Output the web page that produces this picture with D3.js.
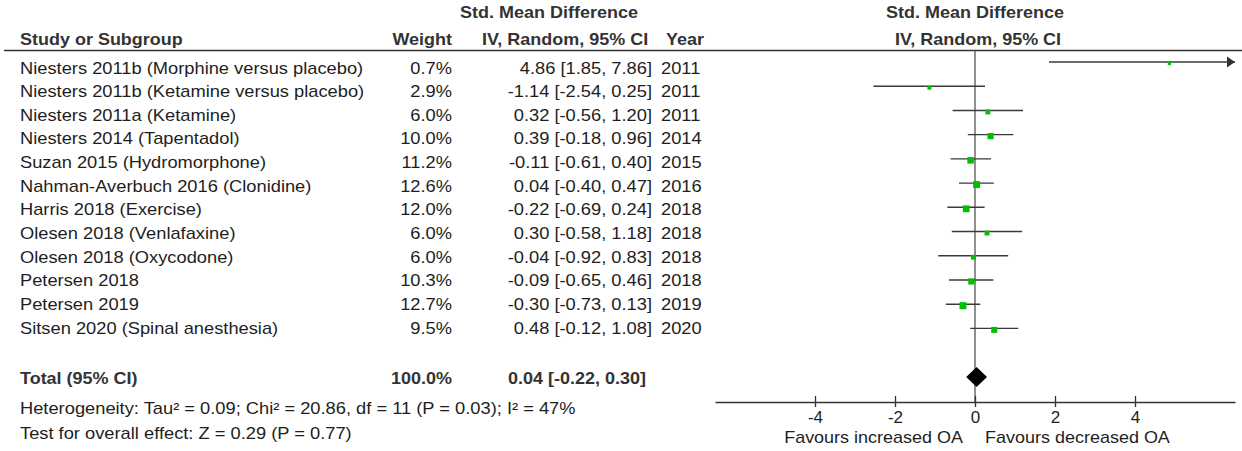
<!DOCTYPE html>
<html>
<head>
<meta charset="utf-8">
<script src="https://cdn.jsdelivr.net/npm/d3@7/dist/d3.min.js"></script>
<style>
  html, body { margin: 0; padding: 0; background: #fff; }
  svg { display: block; }
</style>
</head>
<body>
<svg id="chart" width="1242" height="451"></svg>
<script>
// ---------------- data ----------------
const studies = [
  "Niesters 2011b (Morphine versus placebo)",
  "Niesters 2011b (Ketamine versus placebo)",
  "Niesters 2011a (Ketamine)",
  "Niesters 2014 (Tapentadol)",
  "Suzan 2015 (Hydromorphone)",
  "Nahman-Averbuch 2016 (Clonidine)",
  "Harris 2018 (Exercise)",
  "Olesen 2018 (Venlafaxine)",
  "Olesen 2018 (Oxycodone)",
  "Petersen 2018",
  "Petersen 2019",
  "Sitsen 2020 (Spinal anesthesia)"
];
const weights = [0.7, 2.9, 6.0, 10.0, 11.2, 12.6, 12.0, 6.0, 6.0, 10.3, 12.7, 9.5];
const smd     = [4.86, -1.14, 0.32, 0.39, -0.11, 0.04, -0.22, 0.30, -0.04, -0.09, -0.30, 0.48];
const lower   = [1.85, -2.54, -0.56, -0.18, -0.61, -0.40, -0.69, -0.58, -0.92, -0.65, -0.73, -0.12];
const upper   = [7.86, 0.25, 1.20, 0.96, 0.40, 0.47, 0.24, 1.18, 0.83, 0.46, 0.13, 1.08];
const years   = [2011, 2011, 2011, 2014, 2015, 2016, 2018, 2018, 2018, 2018, 2019, 2020];
const total   = {est: 0.04, lo: -0.22, hi: 0.30, weight: "100.0%"};
const tickValues = [-4, -2, 0, 2, 4];
const axisDomain = [-6.5, 6.5];
const heterogeneityText = "Heterogeneity: Tau\u00B2 = 0.09; Chi\u00B2 = 20.86, df = 11 (P = 0.03); I\u00B2 = 47%";
const overallText = "Test for overall effect: Z = 0.29 (P = 0.77)";
const favourLeft = "Favours increased OA";
const favourRight = "Favours decreased OA";

// ---------------- layout ----------------
const svg = d3.select("#chart");
const FONT = "'Liberation Sans', Arial, Helvetica, sans-serif";
const SX = 1.13;       // horizontal stretch of the original typesetting
const SXB = 1.11;
const FS = 16.2;
const TXT = "#1e1e1e";
const HDR = "#333333";

const x = d3.scaleLinear().domain(axisDomain).range([715, 1235]);
const yLine = d3.scaleLinear().domain([0, studies.length - 1]).range([62, 328.4]);
const yText = d3.scaleLinear().domain([0, studies.length - 1]).range([73.5, 333.5]);
const size = d3.scaleLinear().domain([0, 12.7]).range([3, 7]);

function txt(x0, y0, s, opts = {}) {
  const bold = opts.weight === "bold";
  return svg.append("text")
    .attr("transform", `translate(${x0},${y0}) scale(${opts.sx || (bold ? SXB : SX)},1)`)
    .attr("text-anchor", opts.anchor || "start")
    .attr("font-family", FONT)
    .attr("font-size", opts.size || FS)
    .attr("font-weight", opts.weight || "normal")
    .attr("fill", opts.fill || TXT)
    .text(s);
}

// headers
txt(549, 18, "Std. Mean Difference", {anchor: "middle", weight: "bold", fill: HDR});
txt(20, 45, "Study or Subgroup", {weight: "bold", fill: HDR});
txt(452, 45, "Weight", {anchor: "end", weight: "bold", fill: HDR});
txt(482, 45, "IV, Random, 95% CI", {weight: "bold", fill: HDR});
txt(666, 45, "Year", {weight: "bold", fill: HDR});
txt(975, 18, "Std. Mean Difference", {anchor: "middle", weight: "bold", fill: HDR});
txt(978, 45, "IV, Random, 95% CI", {anchor: "middle", weight: "bold", fill: HDR});

svg.append("line").attr("x1", 4).attr("x2", 1242).attr("y1", 50.5).attr("y2", 50.5)
  .attr("stroke", "#333").attr("stroke-width", 1.3);

// rows text
studies.forEach((s, i) => {
  const ty = yText(i);
  txt(20, ty, s);
  txt(452, ty, weights[i].toFixed(1) + "%", {anchor: "end"});
  txt(652, ty, `${smd[i].toFixed(2)} [${lower[i].toFixed(2)}, ${upper[i].toFixed(2)}]`, {anchor: "end"});
  txt(661, ty, String(years[i]));
});

// total row text
txt(20, 384, "Total (95% CI)", {weight: "bold", fill: HDR});
txt(452, 384, total.weight, {anchor: "end", weight: "bold", fill: HDR});
txt(646, 384, `${total.est.toFixed(2)} [${total.lo.toFixed(2)}, ${total.hi.toFixed(2)}]`, {anchor: "end", weight: "bold", fill: HDR});
txt(20, 414, heterogeneityText);
txt(20, 439, overallText);

// ---------------- plot ----------------
const axisY = 402;
// zero line
svg.append("line").attr("x1", x(0)).attr("x2", x(0)).attr("y1", 50.5).attr("y2", axisY)
  .attr("stroke", "#555").attr("stroke-width", 1.3);

const rows = svg.append("g");
studies.forEach((s, i) => {
  const yy = yLine(i);
  const lo = Math.max(lower[i], axisDomain[0]);
  const hi = Math.min(upper[i], axisDomain[1]);
  rows.append("line").attr("x1", x(lo)).attr("x2", x(hi)).attr("y1", yy).attr("y2", yy)
    .attr("stroke", "#3a3a3a").attr("stroke-width", 1.4);
  if (upper[i] > axisDomain[1]) {
    const tip = x(axisDomain[1]);
    rows.append("path").attr("d", `M${tip},${yy}L${tip - 8},${yy - 5.5}L${tip - 8},${yy + 5.5}Z`)
      .attr("fill", "#333");
  }
  if (lower[i] < axisDomain[0]) {
    const tip = x(axisDomain[0]);
    rows.append("path").attr("d", `M${tip},${yy}L${tip + 8},${yy - 5.5}L${tip + 8},${yy + 5.5}Z`)
      .attr("fill", "#333");
  }
  const sz = size(weights[i]);
  rows.append("rect").attr("x", x(smd[i]) - sz / 2).attr("y", yy + 1.5 - sz / 2)
    .attr("width", sz).attr("height", sz).attr("fill", "#00c000");
});

// diamond
const dy = 377;
svg.append("path")
  .attr("d", `M${x(total.lo)},${dy}L${x(total.est)},${dy - 10}L${x(total.hi)},${dy}L${x(total.est)},${dy + 10}Z`)
  .attr("fill", "#000");

// axis
const axis = d3.axisBottom(x).tickValues(tickValues).tickSizeInner(5).tickSizeOuter(0)
  .tickFormat(d3.format("d"));
const gA = svg.append("g").attr("transform", `translate(0,${axisY})`).call(axis);
gA.select(".domain").attr("stroke", "#333").attr("stroke-width", 1.3);
gA.selectAll(".tick line").attr("y1", -6).attr("y2", 5).attr("stroke", "#333").attr("stroke-width", 1.3);
gA.selectAll(".tick text").attr("y", 21).attr("dy", null)
  .attr("font-family", FONT).attr("font-size", 17).attr("fill", TXT)
  .text(d => d < 0 ? "-" + Math.abs(d) : String(d));

txt(963, 443, favourLeft, {anchor: "end", sx: 1.11});
txt(985, 443, favourRight, {sx: 1.11});
</script>
</body>
</html>
